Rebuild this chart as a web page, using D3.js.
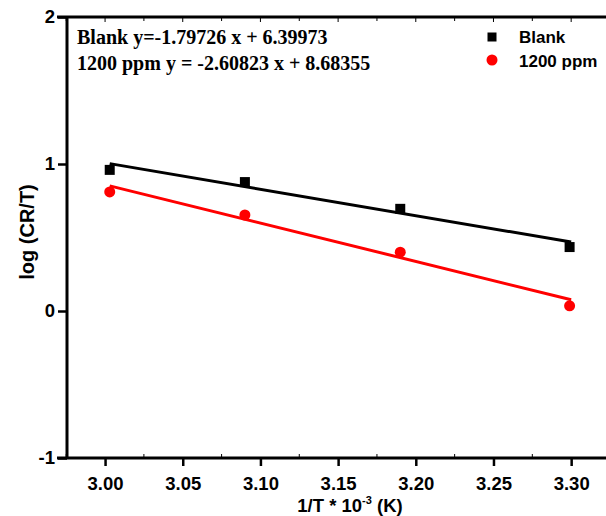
<!DOCTYPE html>
<html><head><meta charset="utf-8">
<script src="https://cdn.jsdelivr.net/npm/d3@7"></script>
<style>body{margin:0;background:#fff}svg{display:block}</style>
</head><body>
<script>
const xValues = [3.003, 3.090, 3.190, 3.299];
const blankValues = [0.96, 0.877, 0.695, 0.435];
const ppmValues = [0.81, 0.653, 0.40, 0.035];
const fitBlank = {slope: -1.79726, intercept: 6.39973};
const fitPpm = {slope: -2.60823, intercept: 8.68355};
const fitRange = [3.003, 3.30];
const xTicks = [3.00, 3.05, 3.10, 3.15, 3.20, 3.25, 3.30];
const xMinor = [2.975, 3.025, 3.075, 3.125, 3.175, 3.225, 3.275, 3.325];
const yTicks = [-1, 0, 1, 2];
const eqLabels = ["Blank y=-1.79726 x + 6.39973", "1200 ppm y = -2.60823 x + 8.68355"];
const seriesNames = ["Blank", "1200 ppm"];

const W = 606, H = 516;
const svg = d3.select("body").append("svg").attr("width", W).attr("height", H);
const L = 67, R = 610, T = 17, B = 458;
const x = d3.scaleLinear().domain([2.9755, 3.325]).range([L, R]);
const y = d3.scaleLinear().domain([-1, 2]).range([B, T]);

const sans = "Arial, 'Liberation Sans', sans-serif";
const serif = "'Times New Roman', 'Liberation Serif', serif";

// minor ticks inside
const minor = svg.append("g").attr("stroke", "#000").attr("stroke-width", 1);
xMinor.forEach(v => {
  minor.append("line").attr("x1", x(v)).attr("x2", x(v)).attr("y1", B).attr("y2", B - 4);
  minor.append("line").attr("x1", x(v)).attr("x2", x(v)).attr("y1", T).attr("y2", T + 4);
});
xTicks.forEach(v => {
  minor.append("line").attr("x1", x(v)).attr("x2", x(v)).attr("y1", T).attr("y2", T + 5);
});

// axes
const xAxis = svg.append("g").attr("transform", `translate(0,${B})`)
  .call(d3.axisBottom(x).tickValues(xTicks).tickFormat(d3.format(".2f")).tickSize(8).tickPadding(11));
const yAxis = svg.append("g").attr("transform", `translate(${L},0)`)
  .call(d3.axisLeft(y).tickValues(yTicks).tickFormat(d => String(d)).tickSize(9).tickPadding(3));
[xAxis, yAxis].forEach(g => {
  g.select(".domain").remove();
  g.selectAll(".tick line").attr("stroke", "#000").attr("stroke-width", 2.5);
  g.selectAll(".tick text").attr("fill", "#000").style("font-family", sans)
    .style("font-size", "18.5px").style("font-weight", "bold");
});
// frame lines
svg.append("line").attr("x1", L - 10).attr("x2", W).attr("y1", B).attr("y2", B).attr("stroke", "#000").attr("stroke-width", 3);
svg.append("line").attr("x1", L - 10).attr("x2", W).attr("y1", T).attr("y2", T).attr("stroke", "#000").attr("stroke-width", 3);
svg.append("line").attr("x1", L).attr("x2", L).attr("y1", T).attr("y2", B).attr("stroke", "#000").attr("stroke-width", 3);

// fit lines
const fits = [[fitBlank, "#000"], [fitPpm, "#ff0000"]];
fits.forEach(([f, c]) => {
  svg.append("line")
    .attr("x1", x(fitRange[0])).attr("y1", y(f.slope * fitRange[0] + f.intercept))
    .attr("x2", x(fitRange[1])).attr("y2", y(f.slope * fitRange[1] + f.intercept))
    .attr("stroke", c).attr("stroke-width", 3);
});

// points
svg.append("g").selectAll("rect").data(xValues).join("rect")
  .attr("x", (d) => x(d) - 5).attr("y", (d, i) => y(blankValues[i]) - 5)
  .attr("width", 10).attr("height", 10).attr("fill", "#000");
svg.append("g").selectAll("circle").data(xValues).join("circle")
  .attr("cx", d => x(d)).attr("cy", (d, i) => y(ppmValues[i])).attr("r", 5.5).attr("fill", "#ff0000");

// equations
eqLabels.forEach((t, i) => {
  svg.append("text").attr("x", 77).attr("y", 44 + i * 26).text(t)
    .style("font-family", serif).style("font-size", "20px").style("font-weight", "bold");
});

// legend
svg.append("rect").attr("x", 492 - 4.5).attr("y", 37 - 4.5).attr("width", 9).attr("height", 9).attr("fill", "#000");
svg.append("circle").attr("cx", 492).attr("cy", 60).attr("r", 5.5).attr("fill", "#ff0000");
seriesNames.forEach((t, i) => {
  svg.append("text").attr("x", 519).attr("y", 43 + i * 24).text(t)
    .style("font-family", sans).style("font-size", "17px").style("font-weight", "bold");
});

// axis titles
svg.append("text").attr("transform", "translate(34,232) rotate(-90)").attr("text-anchor", "middle")
  .text("log (CR/T)").style("font-family", sans).style("font-size", "20px").style("font-weight", "bold");
const xt = svg.append("text").attr("x", 350).attr("y", 512).attr("text-anchor", "middle")
  .style("font-family", sans).style("font-size", "18.5px").style("font-weight", "bold");
xt.append("tspan").text("1/T * 10");
xt.append("tspan").attr("dy", -8).style("font-size", "11px").text("-3");
xt.append("tspan").attr("dy", 8).text(" (K)");
</script>
</body></html>
